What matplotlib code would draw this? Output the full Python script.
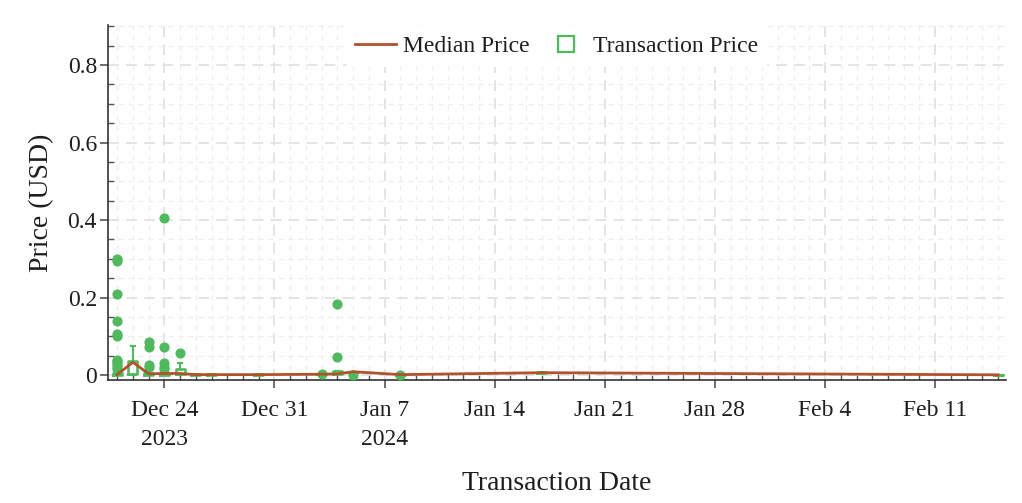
import matplotlib
matplotlib.use("Agg")
import matplotlib.pyplot as plt
import matplotlib.dates as mdates
from matplotlib.lines import Line2D
from matplotlib.ticker import MultipleLocator

# ---------------- data ----------------
days = ['2023-12-21', '2023-12-22', '2023-12-23', '2023-12-24', '2023-12-25',
        '2023-12-26', '2023-12-27', '2023-12-30', '2024-01-03', '2024-01-04',
        '2024-01-05', '2024-01-08', '2024-01-17', '2024-02-15']
median_price = [0.001, 0.033, 0.003, 0.004, 0.004, 0.001, 0.001, 0.001,
                0.002, 0.003, 0.0085, 0.001, 0.006, 0.0005]
q1 = [0.000, 0.002, 0.001, 0.001, 0.003, 0.0005, 0.0005, 0.0005,
      0.002, 0.003, 0.0085, 0.001, 0.004, 0.0003]
q3 = [0.005, 0.037, 0.006, 0.006, 0.015, 0.0015, 0.0015, 0.0015,
      0.002, 0.011, 0.0085, 0.001, 0.007, 0.001]
whisker_lo = [0.000, 0.000, 0.000, 0.000, 0.000, 0.0005, 0.0005, 0.0005,
              0.002, 0.003, 0.0085, 0.001, 0.004, 0.0003]
whisker_hi = [0.012, 0.075, 0.010, 0.010, 0.031, 0.0015, 0.0015, 0.0015,
              0.002, 0.011, 0.0085, 0.001, 0.007, 0.001]
outliers = [
    [0.300, 0.295, 0.210, 0.140, 0.105, 0.100, 0.040, 0.035, 0.030, 0.025, 0.020, 0.015],
    [],
    [0.084, 0.073, 0.026, 0.020],
    [0.405, 0.073, 0.030, 0.021, 0.015],
    [0.058],
    [], [], [],
    [0.002],
    [0.183, 0.047],
    [0.0005],
    [0.0005],
    [], [],
]
xtick_days = ['2023-12-24', '2023-12-31', '2024-01-07', '2024-01-14',
              '2024-01-21', '2024-01-28', '2024-02-04', '2024-02-11']
xtick_labels = ['Dec 24\n2023', 'Dec 31', 'Jan 7\n2024', 'Jan 14',
                'Jan 21', 'Jan 28', 'Feb 4', 'Feb 11']
ytick_values = [0, 0.2, 0.4, 0.6, 0.8]
ytick_labels = ['0', '0.2', '0.4', '0.6', '0.8']

# ---------------- style ----------------
GREEN = '#4dbb5b'
BROWN = '#b0532a'
TEXT = '#1e1e1e'
plt.rcParams['font.family'] = ['Liberation Serif', 'DejaVu Serif']

fig = plt.figure(figsize=(10.22, 5.03), dpi=100)
ax = fig.add_axes([0.1057, 0.2455, 0.8783, 0.7045])

xpos = mdates.datestr2num(days)

stats = []
for i in range(len(days)):
    stats.append(dict(med=median_price[i], q1=q1[i], q3=q3[i],
                      whislo=whisker_lo[i], whishi=whisker_hi[i],
                      fliers=outliers[i]))

ax.bxp(stats, positions=xpos, widths=0.58, manage_ticks=False,
       showfliers=True, patch_artist=False,
       boxprops=dict(color=GREEN, linewidth=1.9),
       whiskerprops=dict(color=GREEN, linewidth=1.5),
       capprops=dict(color=GREEN, linewidth=1.5),
       capwidths=0.25,
       medianprops=dict(color=GREEN, linewidth=0),
       flierprops=dict(marker='o', markerfacecolor=GREEN, markeredgecolor=GREEN,
                       markersize=6.3, linestyle='none'),
       zorder=3)

ax.plot(xpos, median_price, color=BROWN, linewidth=2.0, zorder=4)

# axes limits
ax.set_xlim(mdates.datestr2num('2023-12-21') - 0.58, mdates.datestr2num('2024-02-15') + 0.48)
ax.set_ylim(-0.0116, 0.903)

# ticks
ax.set_xticks(mdates.datestr2num(xtick_days))
ax.set_xticklabels(xtick_labels, fontsize=17, linespacing=1.5)
ax.xaxis.set_minor_locator(mdates.DayLocator())
ax.set_yticks(ytick_values)
ax.set_yticklabels(ytick_labels, fontsize=17)
ax.yaxis.set_minor_locator(MultipleLocator(0.05))

ax.tick_params(axis='both', which='major', direction='out', length=6, width=1.2,
               color='#555555', labelcolor=TEXT)
ax.tick_params(axis='x', which='major', pad=9)
ax.tick_params(axis='y', which='major', pad=2)
ax.tick_params(axis='both', which='minor', direction='in', length=4, width=1.0,
               color='#555555')

for s in ['top', 'right']:
    ax.spines[s].set_visible(False)
for s in ['left', 'bottom']:
    ax.spines[s].set_color('#333333')
    ax.spines[s].set_linewidth(1.2)

ax.grid(True, which='major', color='#e2e2e2', linestyle=(0, (6, 4)), linewidth=1.3, zorder=0)
ax.grid(True, which='minor', color='#eeeeee', linestyle=(0, (4, 4)), linewidth=0.9, zorder=0)
ax.set_axisbelow(True)

ax.set_xlabel('Transaction Date', fontsize=20, labelpad=15, color=TEXT)
ax.set_ylabel('Price (USD)', fontsize=20, labelpad=10, color=TEXT)

handles = [Line2D([0], [0], color=BROWN, linewidth=2.0),
           Line2D([0], [0], color=GREEN, marker='s', markersize=11,
                  markerfacecolor='none', markeredgewidth=1.6, linestyle='none')]
leg = ax.legend(handles, ['Median Price', 'Transaction Price'], loc='upper center',
                bbox_to_anchor=(0.5, 1.03), ncol=2, fontsize=17, frameon=True,
                facecolor='white', edgecolor='none', framealpha=1.0,
                handlelength=1.7, columnspacing=0.7, handletextpad=0.3)
for t in leg.get_texts():
    t.set_color(TEXT)

fig.savefig('out.png', dpi=100)
